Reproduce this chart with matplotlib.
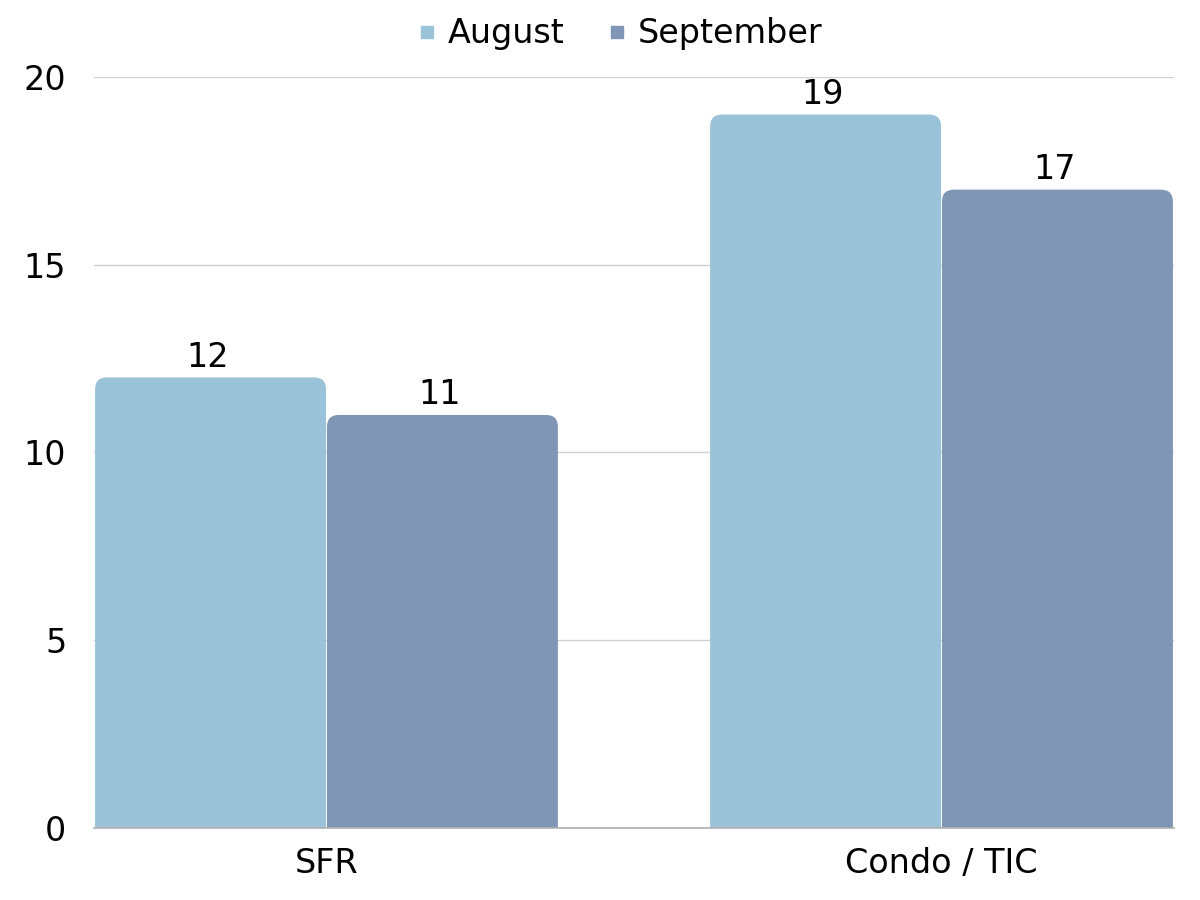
import matplotlib
matplotlib.use("Agg")
import matplotlib.pyplot as plt
from matplotlib.patches import FancyBboxPatch
from matplotlib.lines import Line2D

categories = ["SFR", "Condo / TIC"]
series_names = ["August", "September"]
august = [12, 19]
september = [11, 17]
colors = ["#9AC2D8", "#7F97B4"]

plt.rcParams['font.family'] = ['DejaVu Sans']
FS = 24

fig = plt.figure(figsize=(12, 9), dpi=100)
ax = fig.add_axes([94/1200, 72/900, 1080/1200, 751/900])
xlim = (-0.378, 1.378)
ylim = (0, 20)
ax.set_xlim(*xlim)
ax.set_ylim(*ylim)

axw_px = 1080
axh_px = 751
px_x = (xlim[1] - xlim[0]) / axw_px
px_y = (ylim[1] - ylim[0]) / axh_px
r_px = 12
rx = r_px * px_x
ry = r_px * px_y

width = 0.3755
offsets = [-0.1885, 0.1885]
for s, vals in enumerate([august, september]):
    for i, v in enumerate(vals):
        x0 = i + offsets[s] - width / 2
        p = FancyBboxPatch((x0, -2), width, v + 2,
                           boxstyle=f"round,pad=0,rounding_size={rx}",
                           mutation_aspect=ry / rx,
                           facecolor=colors[s], edgecolor="none", zorder=2)
        ax.add_patch(p)
        ax.text(i + offsets[s] - 0.005, v + 0.28, str(v), ha="center", va="baseline",
                fontsize=FS, color="black", zorder=3)

ax.set_xticks(range(len(categories)))
ax.set_xticklabels(categories, fontsize=FS)
ax.set_yticks([0, 5, 10, 15, 20])
ax.set_yticklabels(["0", "5", "10", "15", "20"], fontsize=FS)
ax.tick_params(axis="both", length=0)
ax.tick_params(axis="x", pad=14)
ax.tick_params(axis="y", pad=20)
ax.grid(axis="y", color="#D0D0D0", linewidth=1, zorder=0)
ax.set_axisbelow(True)
for sp in ["top", "right", "left"]:
    ax.spines[sp].set_visible(False)
ax.spines["bottom"].set_color("#B0B0B0")
ax.spines["bottom"].set_linewidth(1.2)
ax.spines["bottom"].set_zorder(4)

handles = [Line2D([], [], marker="s", linestyle="none", markersize=8,
                  markerfacecolor=c, markeredgecolor=c) for c in colors]
fig.legend(handles, series_names, loc="center", bbox_to_anchor=(0.515, 1 - 34/900),
           ncol=2, frameon=False, fontsize=FS, handletextpad=0.2,
           columnspacing=1.2, handlelength=0.8)

fig.savefig("out.png", dpi=100, facecolor="white")
